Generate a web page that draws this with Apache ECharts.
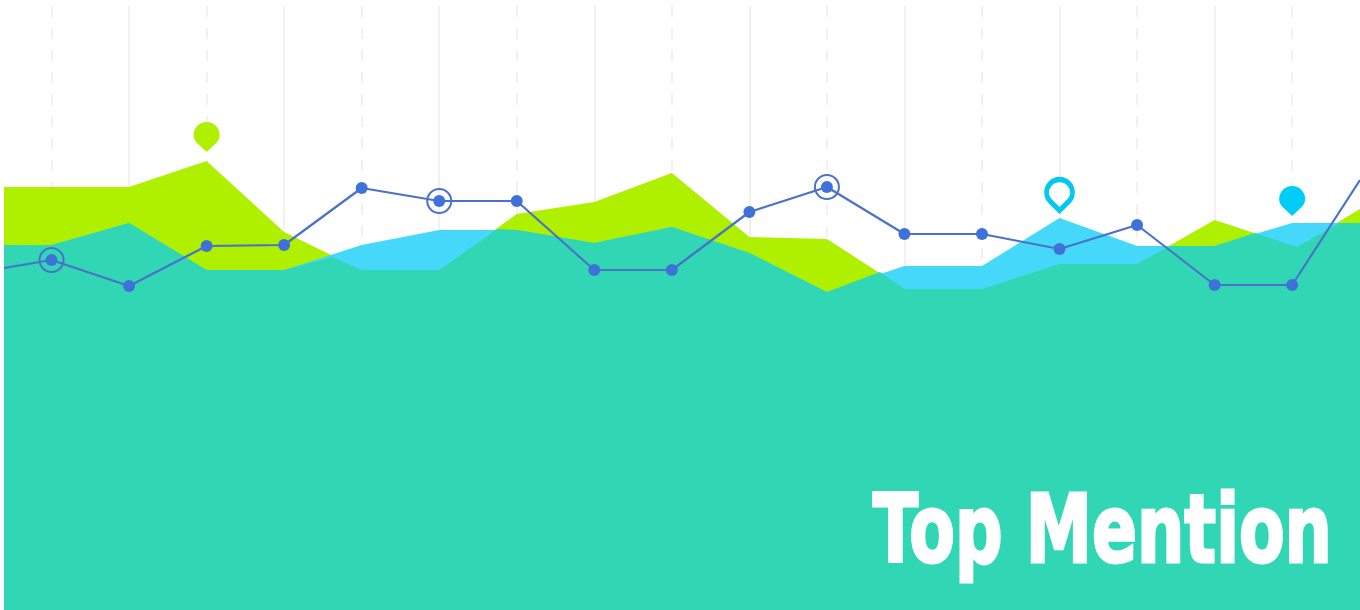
<!DOCTYPE html>
<html><head><meta charset="utf-8">
<style>html,body{margin:0;padding:0;background:#fff}#c{width:1360px;height:610px}</style>
<script src="https://cdn.jsdelivr.net/npm/echarts@6/dist/echarts.min.js"></script>
</head><body><div id="c"></div>
<script>
const xMin = 0.387, xMax = 17.875;
const limeX = [0.387,1,2,3,4,5,6,7,8,9,10,11,12,13,14,15,16,17.06,17.875];
const limeV = [423,423,423,449,378,340,340,396,408,437,373,371,321,321,346,346,390,363,401];
const cyanX = [0.387,1,2,3,4,5,6,7,8,9,10,11,12,13,14,15,16,17,17.875];
const cyanV = [365,365,387,340,340,365,380,380,367,383,357,318,344,344,392,364,364,387,387];
const tealX = [0.387,1,2,3,4,4.617,5,6,6.75,7,8,9,10,11,11.683,12,13,14,15,15.42,16,16.52,17.06,17.61,17.875];
const tealV = [365,365,387,340,340,353,340,340,381,380,367,383,357,318,338,321,321,346,346,364,364,377,363,387,387];
const lineX = [0.387,1,2,3,4,5,6,7,8,9,10,11,12,13,14,15,16,17,17.875];
const lineV = [342,350,324,364,365,422,409,409,340,340,398,423,376,376,361,385,325,325,430];
const ringIdx = [1,6,11];
const solidGrid = [2,4,6,8,10,12,14,16];
const dashedGrid = [1,3,5,7,9,11,13,15,17];
const title = 'Top Mention';
const pinLime = [[3,473]], pinHollow = [[14,415]], pinCyan = [[17,409]];

const pair = (xs, vs) => xs.map((x, i) => [x, vs[i]]);
const pin = 'path://M13 0C20.2 0 26 5.8 26 13C26 17 24 19.5 22 21.5L13 30L4 21.5C2 19.5 0 17 0 13C0 5.8 5.8 0 13 0Z';
const gridLines = (xs, type) => xs.map(x => [
  {coord:[x,604], lineStyle:{color:'#f1f1f4', width:2, type}},
  {coord:[x,300], symbol:'none'}
]);
const area = (name, xs, vs, color, z) => ({
  type:'line', name, data:pair(xs,vs), symbol:'none', z, silent:true,
  lineStyle:{width:0}, areaStyle:{color, opacity:1, origin:'start'}
});
const pinSeries = (data, size, style) => ({
  type:'scatter', data, symbol:pin, symbolSize:size, z:8, silent:true, itemStyle:Object.assign({opacity:1}, style)
});

const chart = echarts.init(document.getElementById('c'), null, {renderer:'canvas'});
chart.setOption({
  animation:false,
  backgroundColor:'#fff',
  grid:{left:4, right:0, top:0, bottom:0},
  xAxis:{type:'value', min:xMin, max:xMax, show:false},
  yAxis:{type:'value', min:0, max:610, show:false},
  graphic:[{
    type:'text', right:27, top:488, z:20, scaleX:0.7,
    style:{text:title, fill:'#fff', stroke:'#fff', lineWidth:3,
      font:'bold 95px "DejaVu Sans",sans-serif'}
  }],
  series:[
    {type:'line', data:[], z:1, silent:true,
      markLine:{z:1, silent:true, symbol:'none', animation:false, label:{show:false},
        data:gridLines(solidGrid,'solid').concat(gridLines(dashedGrid,[11,11]))}},
    area('lime', limeX, limeV, '#AEF000', 2),
    area('cyan', cyanX, cyanV, '#46D8FA', 3),
    area('overlap', tealX, tealV, '#31D7B4', 4),
    {type:'line', data:pair(lineX,lineV), symbol:'none', z:5, silent:true,
      lineStyle:{color:'#4A72C8', width:2.2}},
    {type:'scatter', data:pair(lineX,lineV).slice(1,-1), symbol:'circle', symbolSize:12, z:6, silent:true,
      itemStyle:{color:'#3F72D8', opacity:1}},
    {type:'scatter', data:ringIdx.map(i=>[lineX[i],lineV[i]]), symbol:'circle', symbolSize:24, z:7, silent:true,
      itemStyle:{color:'rgba(0,0,0,0)', borderColor:'#4A72C8', borderWidth:2, opacity:1}},
    pinSeries(pinLime, [26,30], {color:'#AEF000'}),
    pinSeries(pinHollow, [26,31], {color:'#fff', borderColor:'#00C8F0', borderWidth:5}),
    pinSeries(pinCyan, [26,30], {color:'#00CDF7'})
  ]
});
</script></body></html>
